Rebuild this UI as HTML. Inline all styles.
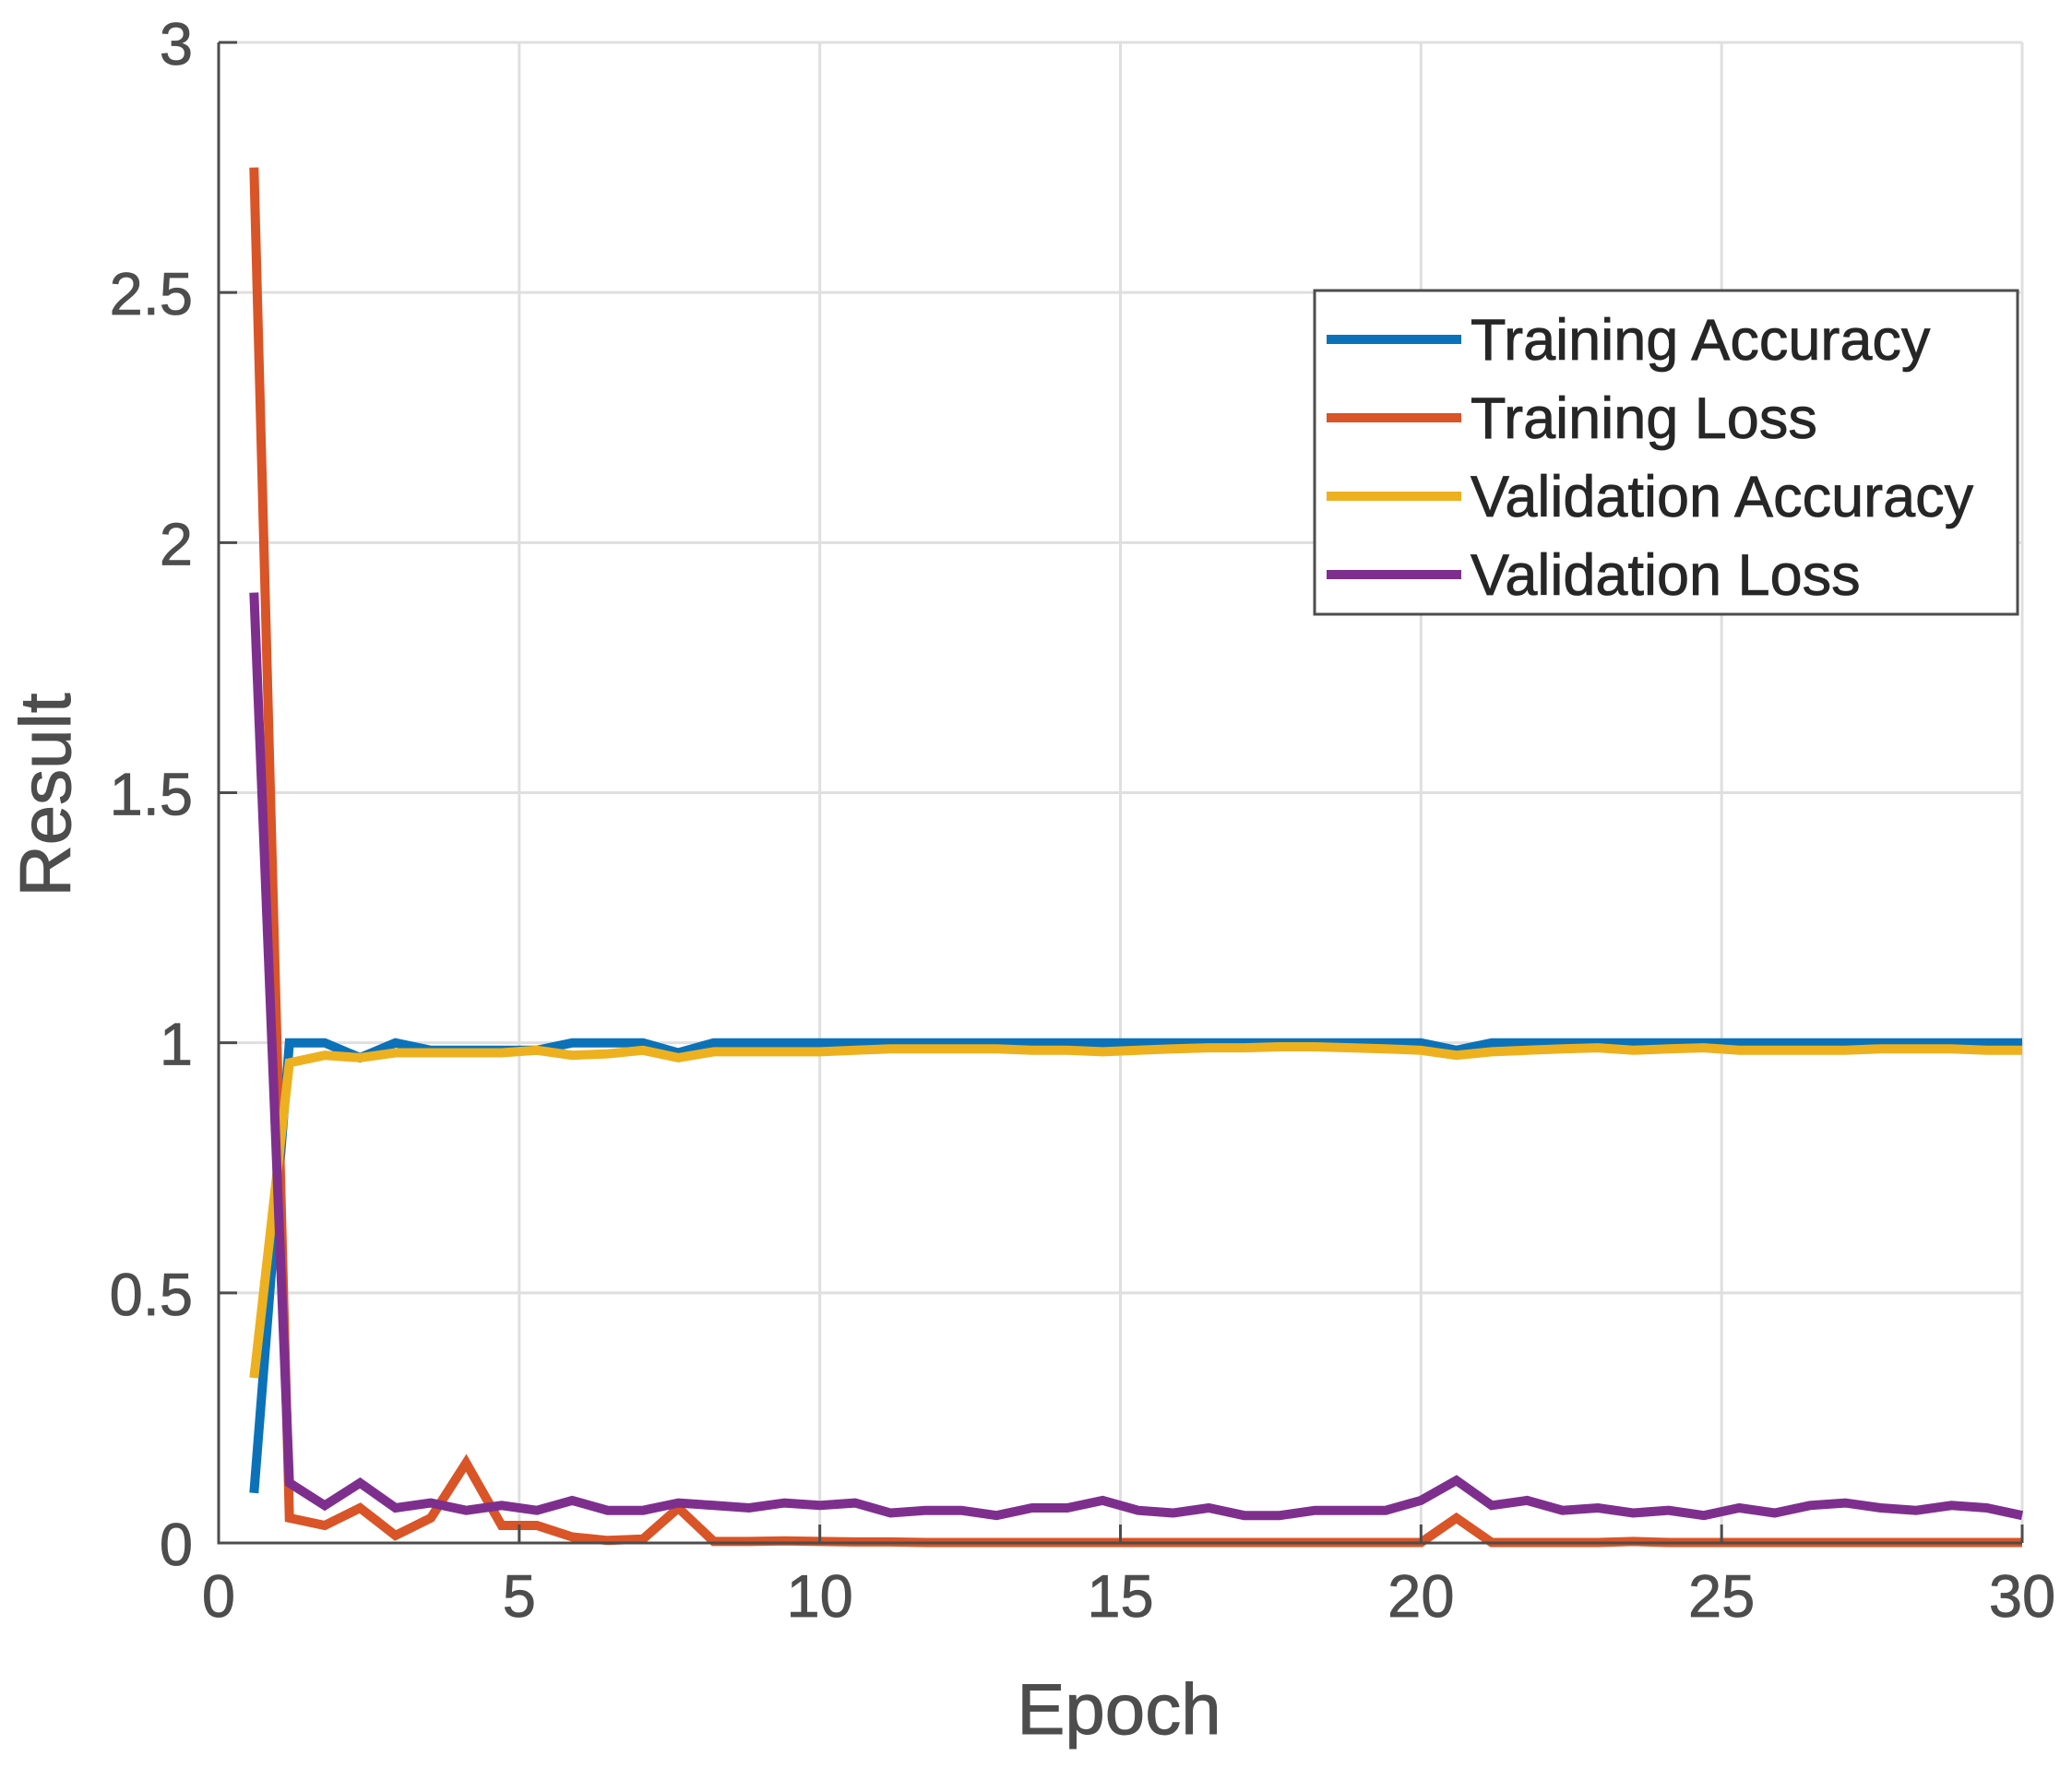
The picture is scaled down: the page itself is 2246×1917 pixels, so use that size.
<!DOCTYPE html>
<html><head><meta charset="utf-8"><style>
html,body{margin:0;padding:0;background:#fff;}
svg{display:block;font-family:"Liberation Sans",Arial,sans-serif;}
</style></head><body>
<svg id="chart" width="2246" height="1917" viewBox="0 0 2246 1917" xmlns="http://www.w3.org/2000/svg">
<rect width="2246" height="1917" fill="#fff"/>
<g id="grid"></g>
<g id="series"></g>
<g id="axes"></g>
<text x="1213" y="1880" font-size="78" fill="#4d4d4d" text-anchor="middle" stroke="#4d4d4d" stroke-width="1">Epoch</text>
<text x="76" y="862" font-size="78" fill="#4d4d4d" text-anchor="middle" stroke="#4d4d4d" stroke-width="1" transform="rotate(-90 76 862)">Result</text>
<g id="legend"></g>
</svg>
<script>
const xTicks=[0,5,10,15,20,25,30];
const yTicks=[0,0.5,1,1.5,2,2.5,3];
const yTickLabels=["0","0.5","1","1.5","2","2.5","3"];
const seriesNames=["Training Accuracy","Training Loss","Validation Accuracy","Validation Loss"];
const seriesColors=["#0b72b9","#d95427","#edb11f","#7e2f8e"];
const trainAcc=[0.1,1.0,1.0,0.97,1.0,0.985,0.985,0.985,0.985,1.0,1.0,1.0,0.98,1.0,1.0,1.0,1.0,1.0,1.0,1.0,1.0,1.0,1.0,1.0,1.0,1.0,1.0,1.0,1.0,1.0,1.0,1.0,1.0,1.0,0.985,1.0,1.0,1.0,1.0,1.0,1.0,1.0,1.0,1.0,1.0,1.0,1.0,1.0,1.0,1.0,1.0];
const trainLoss=[2.75,0.05,0.035,0.07,0.015,0.05,0.16,0.035,0.035,0.012,0.005,0.008,0.07,0.003,0.003,0.004,0.003,0.002,0.002,0.001,0.001,0.001,0.001,0.001,0.001,0.001,0.001,0.001,0.001,0.001,0.001,0.001,0.001,0.001,0.05,0.001,0.001,0.001,0.001,0.003,0.001,0.001,0.001,0.001,0.001,0.001,0.001,0.001,0.001,0.001,0.001];
const valAcc=[0.33,0.96,0.975,0.97,0.98,0.98,0.98,0.98,0.985,0.975,0.978,0.985,0.97,0.982,0.982,0.982,0.982,0.985,0.988,0.988,0.988,0.988,0.985,0.985,0.982,0.985,0.988,0.99,0.99,0.992,0.992,0.99,0.988,0.985,0.975,0.982,0.985,0.988,0.99,0.985,0.988,0.99,0.985,0.985,0.985,0.985,0.988,0.988,0.988,0.985,0.985];
const valLoss=[1.9,0.12,0.075,0.12,0.07,0.08,0.065,0.075,0.065,0.085,0.065,0.065,0.08,0.075,0.07,0.08,0.075,0.08,0.06,0.065,0.065,0.055,0.07,0.07,0.085,0.065,0.06,0.07,0.055,0.055,0.065,0.065,0.065,0.085,0.125,0.075,0.085,0.065,0.07,0.06,0.065,0.055,0.07,0.06,0.075,0.08,0.07,0.065,0.075,0.07,0.055];
const allSeries=[trainAcc,trainLoss,valAcc,valLoss];
const L=237,R=2192,T=46,B=1673;
const xs=v=>L+(v/30)*(R-L);
const ys=v=>B-(v/3)*(B-T);
const NS="http://www.w3.org/2000/svg";
function mk(tag,attrs,parent){const e=document.createElementNS(NS,tag);for(const k in attrs)e.setAttribute(k,attrs[k]);parent.appendChild(e);return e;}
const grid=document.getElementById('grid'),axes=document.getElementById('axes'),ser=document.getElementById('series'),leg=document.getElementById('legend');
xTicks.forEach((t,i)=>{
 const g=mk('line',{x1:xs(t),x2:xs(t),y1:T,y2:B,stroke:'#dfdfdf','stroke-width':3},grid);
 
 
 const tk=mk('line',{x1:xs(t),x2:xs(t),y1:B,y2:B-20,stroke:'#4d4d4d','stroke-width':3},axes);
 
 
 const tx=mk('text',{x:xs(t),y:B+80,'font-size':65,fill:'#4d4d4d',stroke:'#4d4d4d','stroke-width':0.8,'text-anchor':'middle'},axes);
 tx.textContent=String(t);
 
 
});
yTicks.forEach((t,i)=>{
 const g=mk('line',{x1:L,x2:R,y1:ys(t),y2:ys(t),stroke:'#dfdfdf','stroke-width':3},grid);
 
 
 const tk=mk('line',{x1:L,x2:L+20,y1:ys(t),y2:ys(t),stroke:'#4d4d4d','stroke-width':3},axes);
 
 
 const tx=mk('text',{x:L-28,y:ys(t)+24,'font-size':65,fill:'#4d4d4d',stroke:'#4d4d4d','stroke-width':0.8,'text-anchor':'end'},axes);
 tx.textContent=yTickLabels[i];
 
 
});
const ax=mk('path',{d:`M${L},${T}L${L},${B}L${R},${B}`,fill:'none',stroke:'#4d4d4d','stroke-width':3},axes);


allSeries.forEach((s,si)=>{
 const pts=s.map((v,i)=>xs((i+1)*30/s.length).toFixed(1)+','+ys(v).toFixed(1)).join(' ');
 const p=mk('polyline',{points:pts,fill:'none',stroke:seriesColors[si],'stroke-width':10,'stroke-linejoin':'miter'},ser);
 
 
});
const box=mk('rect',{x:1425,y:315,width:762,height:351,fill:'#fff',stroke:'#4d4d4d','stroke-width':3},leg);


seriesNames.forEach((n,i)=>{
 const y=368+i*85;
 const l=mk('line',{x1:1438,x2:1584,y1:y,y2:y,stroke:seriesColors[i],'stroke-width':10},leg);
 
 
 const t=mk('text',{x:1594,y:y+22,'font-size':63,fill:'#262626',stroke:'#262626','stroke-width':0.8},leg);
 t.textContent=n;
 
 
});
</script>
</body></html>
